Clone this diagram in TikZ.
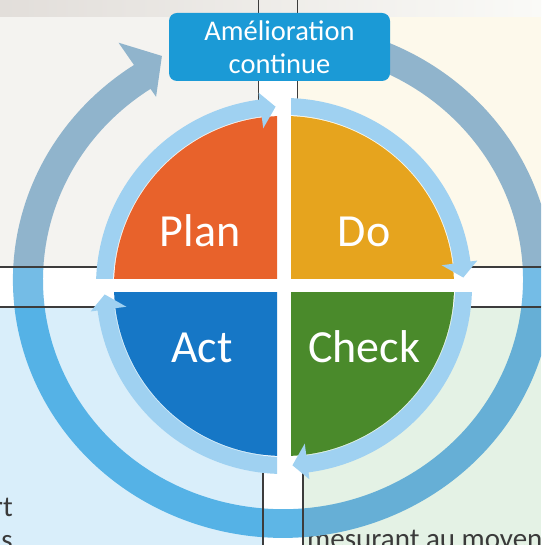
\documentclass[tikz,border=0pt]{standalone}
\usepackage{fontspec}
\setmainfont{Carlito}

% palette
\definecolor{plancol}{HTML}{E8622B}
\definecolor{docol}{HTML}{E6A41E}
\definecolor{checkcol}{HTML}{4A8A2B}
\definecolor{actcol}{HTML}{1677C6}
\definecolor{innerringcol}{HTML}{9FD1F1}
\definecolor{boxcol}{HTML}{1B9AD6}
\definecolor{ringtop}{HTML}{90B4CC}
\definecolor{ringmid}{HTML}{74BCE6}
\definecolor{ringbl}{HTML}{55B2E6}
\definecolor{ringbm}{HTML}{5EB6E6}
\definecolor{ringbr}{HTML}{66AFD6}
\definecolor{paneltl}{HTML}{F4F3F0}
\definecolor{paneltr}{HTML}{FDF9EB}
\definecolor{panelbl}{HTML}{D9EEFA}
\definecolor{panelbr}{HTML}{E4F2E5}
\definecolor{topbandL}{HTML}{E2DEDA}
\definecolor{topbandR}{HTML}{FAFAF7}
\definecolor{pagetextcol}{HTML}{3A3A3A}
\definecolor{bordercol}{HTML}{3C3C3C}

% big outer ring arrow (clockwise, head pointing at the top box)
\newcommand{\pdcaOuterRing}{(70:270) arc[start angle=70,end angle=-236.5,radius=270]
  -- (-236.5:298) -- (-242.7:264) -- (-236.5:230) -- (-236.5:240)
  arc[start angle=-236.5,end angle=70,radius=240] -- cycle}

% one quarter ring arrow of the inner circle (Plan quarter, others rotated)
\newcommand{\pdcaQuarterArrow}{(185:188) arc[start angle=185,end angle=97.5,radius=188]
  -- (97.5:195) -- (92.7:179.5) -- (97.5:159) -- (97.5:171)
  arc[start angle=97.5,end angle=185,radius=171] -- cycle}

\begin{document}
\begin{tikzpicture}[x=1pt,y=1pt,
  border/.style={draw=bordercol, line width=1.1pt},
  outerxf/.style={shift={(283,265)}, yscale=0.955},
  qlabel/.style={text=white, anchor=base, font=\fontsize{46}{50}\selectfont, inner sep=0pt},
  pagetext/.style={text=pagetextcol, font=\fontsize{29}{33}\selectfont, inner sep=0pt},
  titlebox/.style={fill=boxcol, rounded corners=8pt, minimum width=221pt, minimum height=68pt,
    text=white, align=center, font=\fontsize{28.5}{33}\selectfont, inner sep=0pt}]
\useasboundingbox (0,0) rectangle (541,545);
\clip (0,0) rectangle (541,545);

% page background panels
\fill[white] (0,0) rectangle (541,545);
\shade[left color=topbandL, right color=topbandR] (0,528) rectangle (541,545);
\fill[paneltl] (0,278) rectangle (258.5,528);
\fill[paneltr] (297.5,278) rectangle (541,528);
\fill[panelbl] (0,0) rectangle (263,238);
\fill[panelbr] (303,0) rectangle (541,238);

% text of the panels
\node[pagetext, anchor=base east] (fragA) at (13,28) {rt};
\node[pagetext, anchor=base east] (fragB) at (13,-5) {s};
\node[pagetext, anchor=base west] (fragC) at (307,-4) {mesurant au moyen};

% outer ring, tinted by the panel it crosses
\foreach \xa/\ya/\xb/\yb/\c in {0/278/541/545/ringtop, 0/238/541/278/ringmid,
    0/0/263/238/ringbl, 263/0/303/238/ringbm, 303/0/541/238/ringbr}{
  \begin{scope}
    \clip (\xa,\ya) rectangle (\xb,\yb);
    \fill[\c, outerxf] \pdcaOuterRing;
  \end{scope}
}

% panel borders
\draw[border] (258.5,545) -- (258.5,440);
\draw[border] (297.5,545) -- (297.5,440);
\draw[border] (263,0) -- (263,80);
\draw[border] (303,0) -- (303,80);
\draw[border] (0,278) -- (105,278) (463,278) -- (541,278);
\draw[border] (0,238) -- (105,238) (463,238) -- (541,238);

% the four quarters with their ring arrows
\foreach \a/\c in {0/plancol, -90/docol, -180/checkcol, -270/actcol}{
  \begin{scope}[shift={(284,259)}, rotate=\a]
    \clip (-7,7) rectangle (-230,230);
    \fill[\c] (0,0) circle[radius=170];
    \fill[innerringcol] \pdcaQuarterArrow;
  \end{scope}
}

\node[qlabel] (plan) at (200,298) {Plan};
\node[qlabel] (do) at (364,298) {Do};
\node[qlabel] (act) at (202,182) {Act};
\node[qlabel] (check) at (364,182) {Check};

% title box
\node[titlebox] (amelio) at (279.5,498) {Amélioration\\continue};
\end{tikzpicture}
\end{document}
